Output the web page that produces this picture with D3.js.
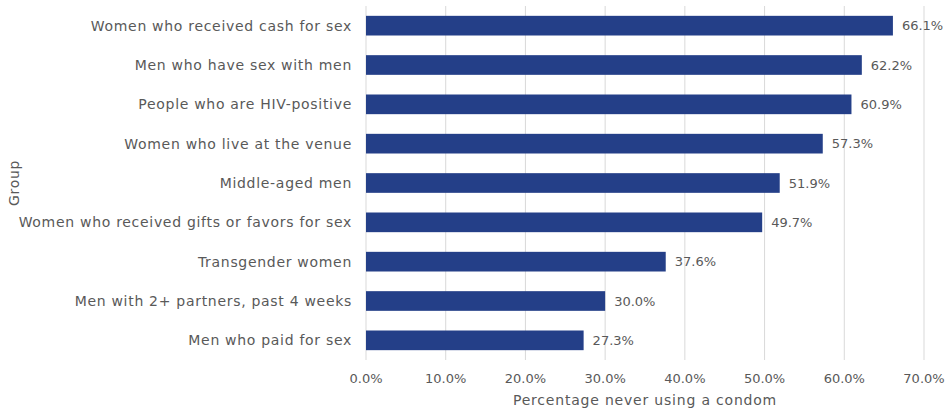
<!DOCTYPE html>
<html>
<head>
<meta charset="utf-8">
<script src="https://cdn.jsdelivr.net/npm/d3@7"></script>
<style>
  body { margin: 0; background: #fff; }
  text { font-family: "DejaVu Sans", sans-serif; fill: #595959; }
</style>
</head>
<body>
<div id="chart"></div>
<script>
{
  const groups = [
    "Women who received cash for sex",
    "Men who have sex with men",
    "People who are HIV-positive",
    "Women who live at the venue",
    "Middle-aged men",
    "Women who received gifts or favors for sex",
    "Transgender women",
    "Men with 2+ partners, past 4 weeks",
    "Men who paid for sex"
  ];
  const values = [66.1, 62.2, 60.9, 57.3, 51.9, 49.7, 37.6, 30.0, 27.3];
  const ticks = [0, 10, 20, 30, 40, 50, 60, 70];

  const width = 946;
  const height = 412;
  const margin = { top: 6, right: 22, bottom: 52, left: 366 };

  const svg = d3.select("#chart")
    .append("svg")
    .attr("width", width)
    .attr("height", height);

  const x = d3.scaleLinear()
    .domain([0, 70])
    .range([margin.left, width - margin.right]);

  const y = d3.scaleBand()
    .domain(groups)
    .range([margin.top, height - margin.bottom])
    .paddingInner(0.5)
    .paddingOuter(0.25);

  // gridlines
  svg.append("g")
    .selectAll("line")
    .data(ticks)
    .enter()
    .append("line")
    .attr("x1", d => x(d))
    .attr("x2", d => x(d))
    .attr("y1", margin.top)
    .attr("y2", height - margin.bottom)
    .attr("stroke", "#d9d9d9")
    .attr("stroke-width", 1);

  // bars
  svg.append("g")
    .selectAll("rect")
    .data(values)
    .enter()
    .append("rect")
    .attr("x", x(0))
    .attr("y", (d, i) => y(groups[i]))
    .attr("width", d => x(d) - x(0))
    .attr("height", y.bandwidth())
    .attr("fill", "#243f88");

  // value labels
  svg.append("g")
    .selectAll("text")
    .data(values)
    .enter()
    .append("text")
    .attr("x", d => x(d) + 9)
    .attr("y", (d, i) => y(groups[i]) + y.bandwidth() / 2)
    .attr("dy", "0.35em")
    .style("font-size", "13px")
    .text(d => d.toFixed(1) + "%");

  // category labels
  svg.append("g")
    .selectAll("text")
    .data(groups)
    .enter()
    .append("text")
    .attr("x", margin.left - 14)
    .attr("y", d => y(d) + y.bandwidth() / 2)
    .attr("dy", "0.35em")
    .attr("text-anchor", "end")
    .style("font-size", "14px")
    .style("letter-spacing", "0.7px")
    .text(d => d);

  // x tick labels
  svg.append("g")
    .selectAll("text")
    .data(ticks)
    .enter()
    .append("text")
    .attr("x", d => x(d))
    .attr("y", 383)
    .attr("text-anchor", "middle")
    .style("font-size", "13px")
    .text(d => d.toFixed(1) + "%");

  // axis titles
  svg.append("text")
    .attr("x", (x(0) + x(70)) / 2)
    .attr("y", 405)
    .attr("text-anchor", "middle")
    .style("font-size", "14px")
    .style("letter-spacing", "0.8px")
    .text("Percentage never using a condom");

  svg.append("text")
    .attr("transform", `translate(19, ${(margin.top + height - margin.bottom) / 2}) rotate(-90)`)
    .attr("text-anchor", "middle")
    .style("font-size", "14px")
    .style("letter-spacing", "0.7px")
    .text("Group");
}
</script>
</body>
</html>
